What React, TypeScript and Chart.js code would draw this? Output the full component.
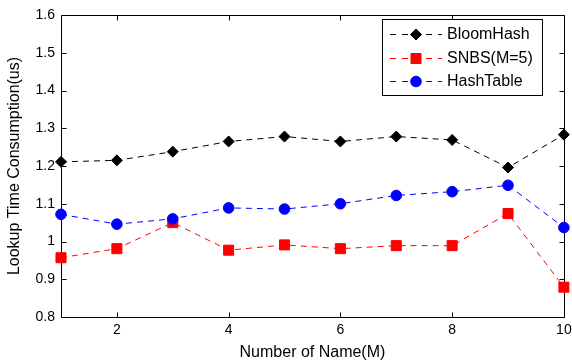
import React, { useEffect, useRef } from 'react';
import { Chart, registerables } from 'chart.js';

Chart.register(...registerables);

const xValues = [1, 2, 3, 4, 5, 6, 7, 8, 9, 10];
const bloomHash = [1.211, 1.215, 1.238, 1.265, 1.278, 1.265, 1.278, 1.269, 1.196, 1.283];
const snbs = [0.957, 0.981, 1.05, 0.977, 0.991, 0.981, 0.989, 0.989, 1.074, 0.879];
const hashTable = [1.072, 1.046, 1.06, 1.089, 1.086, 1.1, 1.122, 1.132, 1.149, 1.037];
const xTicks = [2, 4, 6, 8, 10];
const yTicks = [0.8, 0.9, 1.0, 1.1, 1.2, 1.3, 1.4, 1.5, 1.6];
const seriesNames = ['BloomHash', 'SNBS(M=5)', 'HashTable'];
const seriesColors = ['#000000', '#ff0000', '#0000ff'];
const xTitle = 'Number of Name(M)';
const yTitle = 'Lookup Time Consumption(us)';

const FONT = "'Liberation Sans', Arial, Helvetica, sans-serif";

function drawMarker(ctx: CanvasRenderingContext2D, kind: number, x: number, y: number, color: string) {
  ctx.save();
  ctx.fillStyle = color;
  ctx.strokeStyle = color;
  ctx.lineWidth = 1;
  ctx.setLineDash([]);
  ctx.beginPath();
  if (kind === 0) {
    const r = 5.5;
    ctx.moveTo(x, y - r);
    ctx.lineTo(x + r, y);
    ctx.lineTo(x, y + r);
    ctx.lineTo(x - r, y);
    ctx.closePath();
  } else if (kind === 1) {
    const h = 5;
    ctx.rect(x - h, y - h, 2 * h, 2 * h);
  } else {
    ctx.arc(x, y, 5.3, 0, Math.PI * 2);
  }
  ctx.fill();
  ctx.stroke();
  ctx.restore();
}

const framePlugin = {
  id: 'frameTicks',
  beforeDatasetsDraw(chart: any) {
    const { ctx, chartArea: a, scales } = chart;
    const l = Math.round(a.left) + 0.5;
    const r = Math.round(a.right) + 0.5;
    const t = Math.round(a.top) + 0.5;
    const b = Math.round(a.bottom) + 0.5;
    const L = 5;
    ctx.save();
    ctx.strokeStyle = '#000';
    ctx.lineWidth = 1;
    ctx.setLineDash([]);
    ctx.beginPath();
    ctx.rect(l, t, r - l, b - t);
    for (const v of xTicks) {
      const px = Math.round(scales.x.getPixelForValue(v)) + 0.5;
      ctx.moveTo(px, b);
      ctx.lineTo(px, b - L);
      ctx.moveTo(px, t);
      ctx.lineTo(px, t + L);
    }
    for (const v of yTicks) {
      const py = Math.round(scales.y.getPixelForValue(v)) + 0.5;
      ctx.moveTo(l, py);
      ctx.lineTo(l + L, py);
      ctx.moveTo(r, py);
      ctx.lineTo(r - L, py);
    }
    ctx.stroke();
    ctx.restore();
  },
};

const legendPlugin = {
  id: 'matlabLegend',
  afterDraw(chart: any) {
    const { ctx } = chart;
    const bx = 382.5, by = 19.5, bw = 160, bh = 76;
    ctx.save();
    ctx.fillStyle = '#fff';
    ctx.fillRect(bx, by, bw, bh);
    ctx.strokeStyle = '#000';
    ctx.lineWidth = 1;
    ctx.strokeRect(bx, by, bw, bh);
    const rows = [34, 57.5, 80.5];
    ctx.font = `16px ${FONT}`;
    ctx.textBaseline = 'middle';
    ctx.textAlign = 'left';
    seriesNames.forEach((name, i) => {
      const y = rows[i];
      ctx.save();
      ctx.strokeStyle = seriesColors[i];
      ctx.lineWidth = 1;
      ctx.setLineDash([6, 6]);
      ctx.beginPath();
      ctx.moveTo(390, Math.round(y) + 0.5);
      ctx.lineTo(442, Math.round(y) + 0.5);
      ctx.stroke();
      ctx.restore();
      drawMarker(ctx, i, 416, Math.round(y) + 0.5, seriesColors[i]);
      ctx.fillStyle = '#000';
      ctx.fillText(name, 447, y + 1);
    });
    ctx.restore();
  },
};

export default function App() {
  const ref = useRef<HTMLCanvasElement>(null);

  useEffect(() => {
    if (!ref.current) return;
    const mk = (vals: number[]) => xValues.map((x, i) => ({ x, y: vals[i] }));
    const chart = new Chart(ref.current, {
      type: 'line',
      data: {
        datasets: [
          {
            label: seriesNames[0],
            data: mk(bloomHash),
            borderColor: seriesColors[0],
            backgroundColor: seriesColors[0],
            borderWidth: 1,
            borderDash: [6, 5],
            pointStyle: 'rectRot',
            pointRadius: 5.5,
            pointBorderWidth: 1,
            tension: 0,
            clip: false as any,
            order: 3,
          },
          {
            label: seriesNames[1],
            data: mk(snbs),
            borderColor: seriesColors[1],
            backgroundColor: seriesColors[1],
            borderWidth: 1,
            borderDash: [6, 5],
            pointStyle: 'rect',
            pointRadius: 7.1,
            pointBorderWidth: 1,
            tension: 0,
            clip: false as any,
            order: 2,
          },
          {
            label: seriesNames[2],
            data: mk(hashTable),
            borderColor: seriesColors[2],
            backgroundColor: seriesColors[2],
            borderWidth: 1,
            borderDash: [6, 5],
            pointStyle: 'circle',
            pointRadius: 5.3,
            pointBorderWidth: 1,
            tension: 0,
            clip: false as any,
            order: 1,
          },
        ],
      },
      options: {
        animation: false,
        responsive: false,
        layout: { padding: { top: 15, right: 6, left: 0, bottom: 0 } },
        plugins: {
          legend: { display: false },
          tooltip: { enabled: false },
        },
        scales: {
          x: {
            type: 'linear',
            min: 1,
            max: 10,
            grid: { display: false, drawTicks: false },
            border: { display: false },
            afterBuildTicks: (scale: any) => {
              scale.ticks = xTicks.map((v) => ({ value: v }));
            },
            afterFit: (scale: any) => {
              scale.height = 46;
              scale.paddingLeft = 0;
              scale.paddingRight = 0;
            },
            ticks: {
              color: '#000',
              font: { family: FONT, size: 14 },
              padding: 5,
              maxRotation: 0,
              autoSkip: false,
              callback: (v: any) => String(v),
            },
            title: {
              display: true,
              text: xTitle,
              color: '#000',
              font: { family: FONT, size: 16 },
              padding: { top: 0, bottom: 1 },
            },
          },
          y: {
            type: 'linear',
            min: 0.8,
            max: 1.6,
            grid: { display: false, drawTicks: false },
            border: { display: false },
            afterBuildTicks: (scale: any) => {
              scale.ticks = yTicks.map((v) => ({ value: v }));
            },
            afterFit: (scale: any) => {
              scale.width = 61;
            },
            ticks: {
              color: '#000',
              font: { family: FONT, size: 14 },
              padding: 6,
              autoSkip: false,
              callback: (v: any) => String(parseFloat(Number(v).toFixed(1))),
            },
            title: {
              display: true,
              text: yTitle,
              color: '#000',
              font: { family: FONT, size: 16 },
              padding: { top: 5, bottom: 0 },
            },
          },
        },
      },
      plugins: [framePlugin, legendPlugin],
    });
    return () => chart.destroy();
  }, []);

  return (
    <div style={{ position: 'absolute', left: 0, top: 0, width: 572, height: 363, background: '#fff' }}>
      <canvas ref={ref} width={572} height={363} />
    </div>
  );
}
